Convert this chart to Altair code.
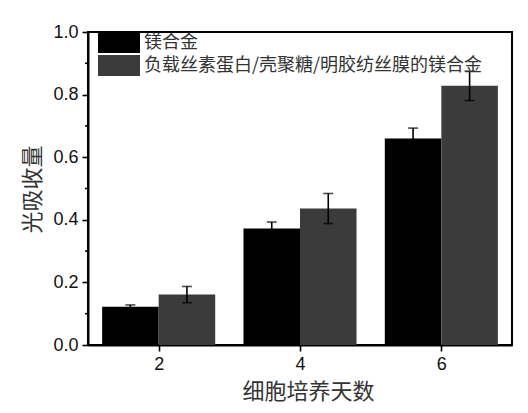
import altair as alt
import pandas as pd

days = [2, 4, 6]
series = ["镁合金", "负载丝素蛋白/壳聚糖/明胶纺丝膜的镁合金"]
vals_a = [0.122, 0.372, 0.660]
err_a = [0.006, 0.021, 0.033]
vals_b = [0.161, 0.436, 0.828]
err_b = [0.026, 0.048, 0.047]
y_ticks = [0.0, 0.2, 0.4, 0.6, 0.8, 1.0]
minor_ticks = [0.1, 0.3, 0.5, 0.7, 0.9]

rows = []
for i, d in enumerate(days):
    rows.append({"day": d, "series": series[0], "k": 0, "v": vals_a[i], "e": err_a[i]})
    rows.append({"day": d, "series": series[1], "k": 1, "v": vals_b[i], "e": err_b[i]})
df = pd.DataFrame(rows)
minor_df = pd.DataFrame({"m": minor_ticks})

BW = 0.8
cjk = "Noto Sans CJK SC"
lat = "Liberation Sans"

xscale = alt.Scale(domain=[1, 7], nice=False, zero=False, padding=0)
yscale = alt.Scale(domain=[0, 1.0], nice=False, padding=0)

base = alt.Chart(df).transform_calculate(
    x0=f"datum.day - {BW} + datum.k * {BW}",
    x1=f"datum.day + datum.k * {BW}",
    xc=f"datum.day - {BW/2} + datum.k * {BW}",
    lo="datum.v - datum.e",
    hi="datum.v + datum.e",
    base0="0",
)

bars = base.mark_bar().encode(
    x=alt.X("x0:Q", scale=xscale,
            axis=alt.Axis(values=days, title="细胞培养天数", format="d",
                          titleFont=cjk, titleFontSize=22, titleColor="#333",
                          titleFontWeight="normal",
                          titleX=220, titleY=46, titleBaseline="middle",
                          labelFont=lat, labelFontSize=18, labelColor="#111",
                          labelPadding=4, tickSize=6)),
    x2="x1:Q",
    y=alt.Y("v:Q", scale=yscale,
            axis=alt.Axis(values=y_ticks, title="光吸收量", format=".1f",
                          titleFont=cjk, titleFontSize=22, titleColor="#333",
                          titleFontWeight="normal",
                          titleX=-56, titleY=157, titleAlign="center",
                          titleBaseline="middle",
                          labelFont=lat, labelFontSize=18, labelColor="#111",
                          labelPadding=4, tickSize=6)),
    y2="base0:Q",
    color=alt.Color("series:N", title=None,
                    scale=alt.Scale(domain=series, range=["#000000", "#3b3b3b"]),
                    legend=alt.Legend(orient="none", legendX=10, legendY=0,
                                      padding=0, symbolType="M-1,-1H3V1H-1Z",
                                      symbolSize=441, symbolStrokeWidth=0,
                                      labelOffset=25, rowPadding=2,
                                      labelFont=cjk, labelFontSize=18,
                                      labelColor="#333", labelLimit=500)),
)

errs = base.mark_rule(color="black", strokeWidth=1.6).encode(
    x=alt.X("xc:Q", scale=xscale), y=alt.Y("lo:Q", scale=yscale), y2="hi:Q"
)
cap_hi = base.mark_tick(color="black", orient="horizontal", size=10, thickness=1.6).encode(
    x=alt.X("xc:Q", scale=xscale), y=alt.Y("hi:Q", scale=yscale)
)
cap_lo = base.mark_tick(color="black", orient="horizontal", size=10, thickness=1.6).encode(
    x=alt.X("xc:Q", scale=xscale), y=alt.Y("lo:Q", scale=yscale)
)
minor = alt.Chart(minor_df).mark_rule(color="black", strokeWidth=1.6).encode(
    x=alt.value(-3), x2=alt.value(0), y=alt.Y("m:Q", scale=yscale)
)

chart = alt.layer(bars, errs, cap_hi, cap_lo, minor).properties(
    width=424, height=313,
    autosize=alt.AutoSizeParams(type="none"),
    padding={"left": 80, "top": 24, "right": 8, "bottom": 68},
).configure_view(stroke="black", strokeWidth=2).configure_axis(
    grid=False, domainColor="black", domainWidth=2, tickColor="black",
    tickWidth=1.6,
)

chart.save("out.html", embed_options={"renderer": "svg", "actions": False})
